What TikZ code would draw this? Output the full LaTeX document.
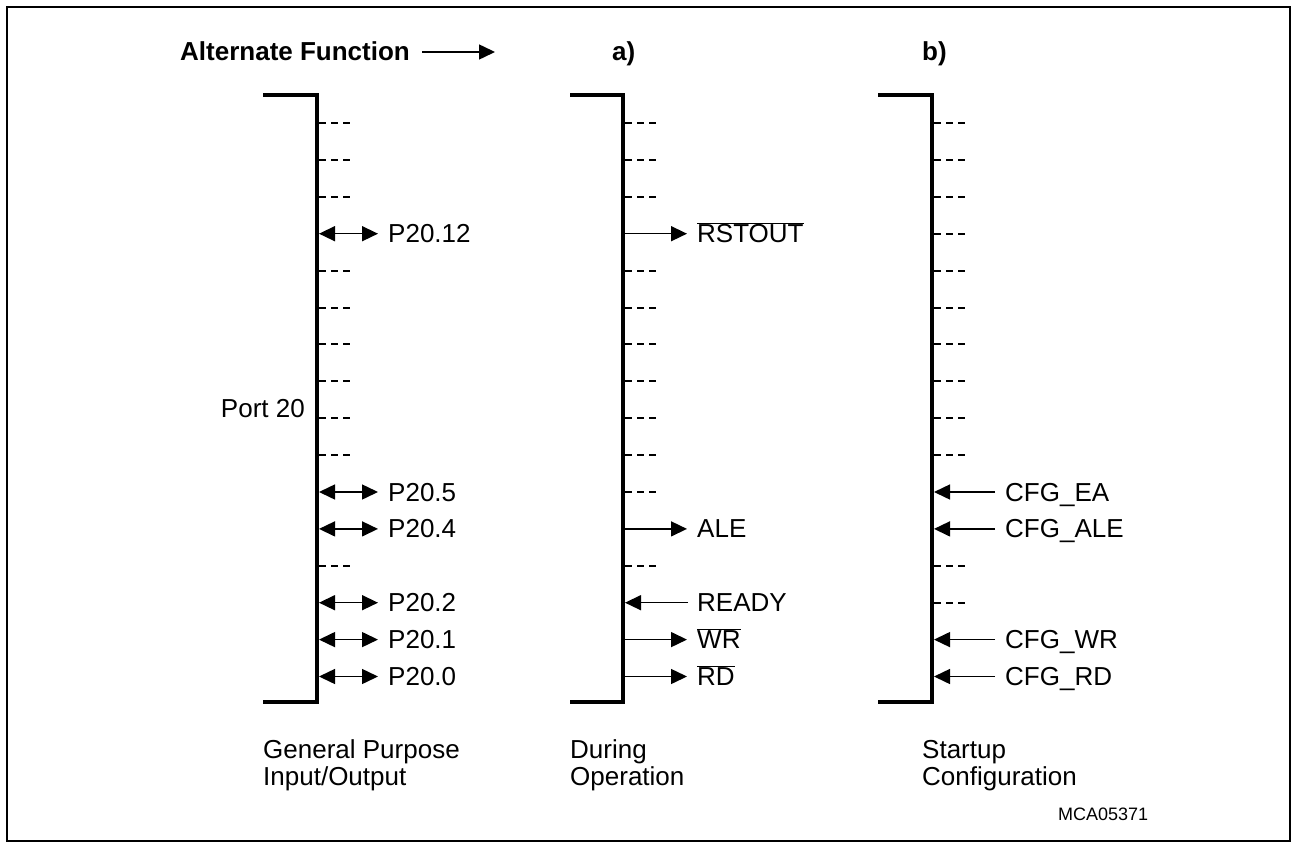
\documentclass[tikz,border=0pt]{standalone}
\usepackage{fontspec}
\setmainfont{Liberation Sans}
\usetikzlibrary{arrows.meta}
\begin{document}
\begin{tikzpicture}[x=1pt,y=-1pt,
  frame/.style={line width=2.5pt},
  bar/.style={line width=4pt},
  tick/.style={line width=2pt,dash pattern=on 7pt off 5pt},
  sig/.style={line width=1.5pt},
  tip/.style={-{Triangle[length=16pt,width=15pt]}},
  bitip/.style={{Triangle[length=16pt,width=15pt]}-{Triangle[length=16pt,width=15pt]}},
  lbl/.style={anchor=base west,inner sep=0pt,font=\fontsize{26}{31}\selectfont},
  hdr/.style={anchor=base west,inner sep=0pt,font=\fontsize{26}{31}\selectfont\bfseries},
  small/.style={anchor=base west,inner sep=0pt,font=\fontsize{18}{22}\selectfont}]
\useasboundingbox (0,0) rectangle (1297,848);
\draw[frame] (7,7) rectangle (1290,841);

% header
\node[hdr] (alt) at (180,61) {Alternate Function};
\coordinate (altS) at (422,52);
\coordinate (altE) at (495,52);
\draw[sig,tip] (altS) -- (altE);
\node[hdr] (ha) at (612,61) {a)};
\node[hdr] (hb) at (922,61) {b)};

% bars
\foreach \n/\x/\l in {A/317/263, B/623/570, C/932/878}{
  \coordinate (\n top) at (\x,95);
  \coordinate (\n bot) at (\x,702);
  \coordinate (\n tl) at (\l,95);
  \coordinate (\n bl) at (\l,702);
  \draw[bar,line join=miter] (\n tl) -- (\n top) -- (\n bot) -- (\n bl);
}

% dashed ticks
\foreach \n/\x/\rows in {A/317/{0,1,2,4,5,6,7,8,9,12},
                          B/623/{0,1,2,4,5,6,7,8,9,10,12},
                          C/932/{0,1,2,3,4,5,6,7,8,9,12,13}}{
  \foreach \i in \rows {
    \coordinate (\n t\i s) at (\x+2,123+36.9*\i);
    \coordinate (\n t\i e) at (\x+33,123+36.9*\i);
    \draw[tick] (\n t\i s) -- (\n t\i e);
  }
}

% column 1: bidirectional
\foreach \i/\t in {3/P20.12,10/P20.5,11/P20.4,13/P20.2,14/P20.1,15/P20.0}{
  \coordinate (A\i s) at (319,123+36.9*\i);
  \coordinate (A\i e) at (378,123+36.9*\i);
  \draw[sig,bitip] (A\i s) -- (A\i e);
  \node[lbl] (A\i l) at (388,132+36.9*\i) {\t};
}

% column 2: outputs
\foreach \i/\t in {3/{$\overline{\hbox{RSTOUT}}$},11/ALE,14/{$\overline{\hbox{WR}}$},15/{$\overline{\hbox{RD}}$}}{
  \coordinate (B\i s) at (625,123+36.9*\i);
  \coordinate (B\i e) at (687,123+36.9*\i);
  \draw[sig,tip] (B\i s) -- (B\i e);
  \node[lbl] (B\i l) at (697,132+36.9*\i) {\t};
}
% column 2: input
\coordinate (B13s) at (688,123+36.9*13);
\coordinate (B13e) at (625,123+36.9*13);
\draw[sig,tip] (B13s) -- (B13e);
\node[lbl] (B13l) at (697,132+36.9*13) {READY};

% column 3: inputs
\foreach \i/\t in {10/CFG\_EA,11/CFG\_ALE,14/CFG\_WR,15/CFG\_RD}{
  \coordinate (C\i s) at (995,123+36.9*\i);
  \coordinate (C\i e) at (934,123+36.9*\i);
  \draw[sig,tip] (C\i s) -- (C\i e);
  \node[lbl] (C\i l) at (1005,132+36.9*\i) {\t};
}

% port label
\node[lbl,anchor=base east] (port) at (305,417) {Port 20};

% bottom labels
\node[lbl] (g1) at (263,758) {General Purpose};
\node[lbl] (g2) at (263,785) {Input/Output};
\node[lbl] (d1) at (570,758) {During};
\node[lbl] (d2) at (570,785) {Operation};
\node[lbl] (s1) at (922,758) {Startup};
\node[lbl] (s2) at (922,785) {Configuration};
\node[small] (mca) at (1058,820) {MCA05371};
\end{tikzpicture}
\end{document}
